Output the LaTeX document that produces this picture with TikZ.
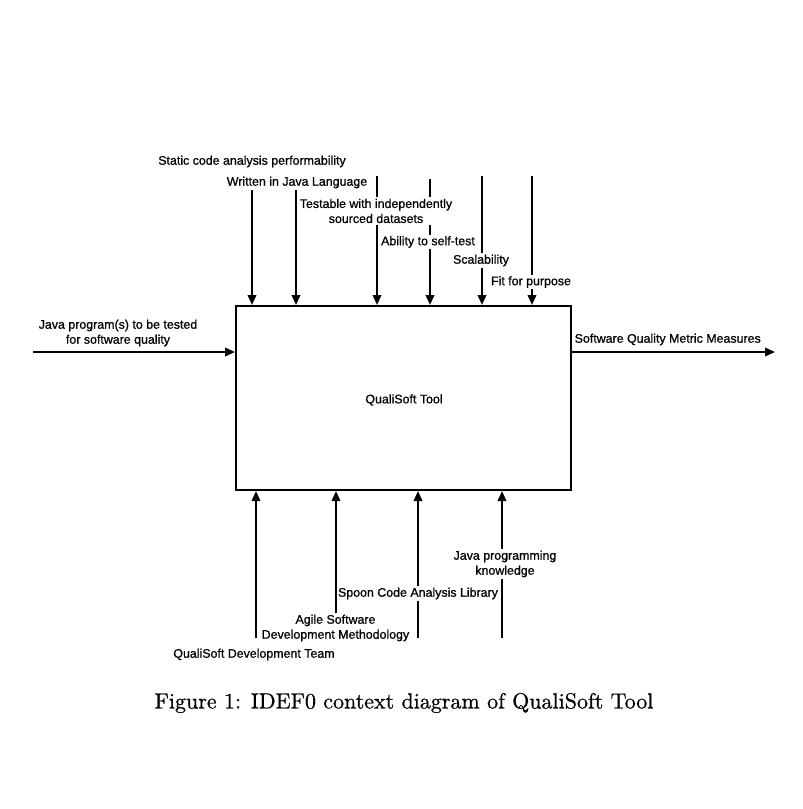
\documentclass[tikz,border=0pt]{standalone}
\usepackage{fontspec}
\newfontfamily\lab{Liberation Sans}[FakeBold=0.8]
\newfontfamily\capfont{lmroman10-regular}[Extension=.otf,FakeBold=0.6]
\usetikzlibrary{arrows.meta}
\tikzset{
  flow/.style={line width=2pt, -{Triangle[length=10pt,width=8.5pt]}},
  lbl/.style={font=\lab\fontsize{12.4}{15}\selectfont, fill=white, inner sep=1.5pt, align=center},
  boxstyle/.style={draw, line width=2pt, minimum width=335pt, minimum height=184pt, inner sep=0pt}
}
\begin{document}
\begin{tikzpicture}[x=1pt,y=-1pt]
\useasboundingbox (0,0) rectangle (803,809);
\node[boxstyle] (box) at (403.5,398) {};
\node[font=\lab\fontsize{12.4}{15}\selectfont] (tool) at (404,400) {QualiSoft Tool};
% control arrows (top)
\coordinate (t1) at (252,190);
\coordinate (t2) at (296,190);
\coordinate (t3) at (377,176);
\coordinate (t4) at (430,179);
\coordinate (t5) at (482,176);
\coordinate (t6) at (532,176);
\foreach \c in {t1,t2,t3,t4,t5,t6} \draw[flow] (\c) -- (\c |- box.north);
% input
\coordinate (in) at (33,352);
\draw[flow] (in) -- (in -| box.west);
% output
\coordinate (out) at (775,352);
\draw[flow] (out -| box.east) -- (out);
% mechanisms (bottom)
\coordinate (b1) at (256,638);
\coordinate (b2) at (336,613);
\coordinate (b3) at (418,638);
\coordinate (b4) at (502,638);
\foreach \c in {b1,b2,b3,b4} \draw[flow] (\c) -- (\c |- box.south);
% labels
\node[lbl] (l1) at (252,161.5) {Static code analysis performability};
\node[lbl] (l2) at (297,182.5) {Written in Java Language};
\node[lbl] (l3) at (376,211) {Testable with independently\\sourced datasets};
\node[lbl] (l4) at (428,242) {Ability to self-test};
\node[lbl] (l5) at (481,260.5) {Scalability};
\node[lbl] (l6) at (531,282) {Fit for purpose};
\node[lbl] (lin) at (118,333) {Java program(s) to be tested\\for software quality};
\node[lbl, anchor=west] (lout) at (573,339.5) {Software Quality Metric Measures};
\node[lbl] (m1) at (254,654.5) {QualiSoft Development Team};
\node[lbl] (m2) at (335.5,628) {Agile Software\\Development Methodology};
\node[lbl] (m3) at (418,593.5) {Spoon Code Analysis Library};
\node[lbl] (m4) at (505,564) {Java programming\\knowledge};
\node[font=\capfont\fontsize{22}{26}\selectfont] (cap) at (404,703) {Figure 1: IDEF0 context diagram of QualiSoft Tool};
\end{tikzpicture}
\end{document}
